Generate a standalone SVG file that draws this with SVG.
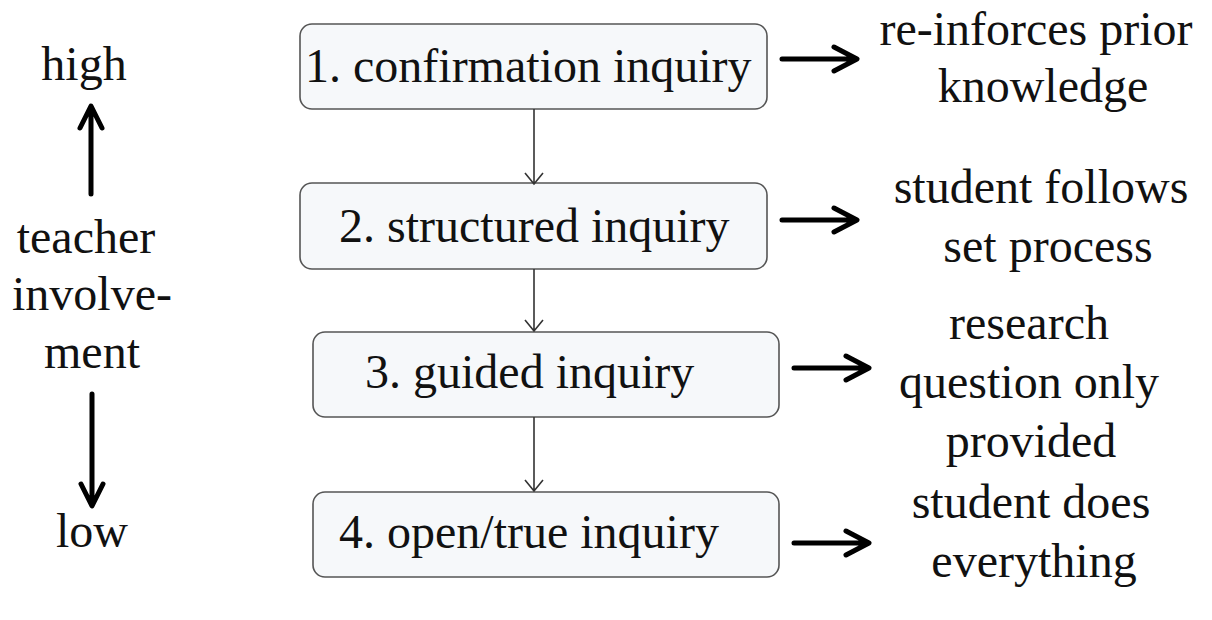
<svg xmlns="http://www.w3.org/2000/svg" width="1212" height="620" viewBox="0 0 1212 620" font-family="'Liberation Serif', Tinos, 'DejaVu Serif', serif">
<style>
text{font-family:'Liberation Serif', Tinos, 'DejaVu Serif', serif;font-size:48px;fill:#111}
.box{fill:#f6f8fa;stroke:#555;stroke-width:1.6}
.thin{stroke:#333;stroke-width:1.6;fill:none}
.thick{stroke:#000;stroke-width:5;fill:none;stroke-linecap:round;stroke-linejoin:round}
.m{text-anchor:middle}
</style>
<rect width="1212" height="620" fill="#fff"/>
<g id="axis">
<text class="m" x="84" y="80">high</text>
<text class="m" x="86" y="253">teacher</text>
<text class="m" x="92" y="310">involve-</text>
<text class="m" x="92" y="368">ment</text>
<text class="m" x="92" y="547">low</text>
</g>
<g id="n1"><rect class="box" x="300" y="24" width="467" height="85" rx="12"/><text x="305" y="82">1. confirmation inquiry</text></g>
<g id="n2"><rect class="box" x="300" y="183" width="467" height="86" rx="12"/><text x="339" y="242">2. structured inquiry</text></g>
<g id="n3"><rect class="box" x="313" y="332" width="466" height="85" rx="12"/><text x="365" y="388">3. guided inquiry</text></g>
<g id="n4"><rect class="box" x="313" y="492" width="466" height="85" rx="12"/><text x="339" y="548">4. open/true inquiry</text></g>
<g id="r1"><text class="m" x="1036" y="45">re-inforces prior</text><text class="m" x="1043" y="102">knowledge</text></g>
<g id="r2"><text class="m" x="1041" y="203">student follows</text><text class="m" x="1048" y="262">set process</text></g>
<g id="r3"><text class="m" x="1029" y="339">research</text><text class="m" x="1029" y="398">question only</text><text class="m" x="1031" y="457">provided</text></g>
<g id="r4"><text class="m" x="1031" y="518">student does</text><text class="m" x="1034" y="577">everything</text></g>
<g id="connectors">
<path class="thin" d="M534 109V184M525 173L534 184L543 173"/>
<path class="thin" d="M534 269V331M525 320L534 331L543 320"/>
<path class="thin" d="M534 417V491M525 480L534 491L543 480"/>
<path class="thick" d="M782 59H856M834 47L857 59L834 71"/>
<path class="thick" d="M782 220H856M834 208L857 220L834 232"/>
<path class="thick" d="M794 368H868M846 356L869 368L846 380"/>
<path class="thick" d="M794 543H868M846 531L869 543L846 555"/>
<path class="thick" d="M91 194V107M80 128L91 106L102 128"/>
<path class="thick" d="M92 394V505M81 484L92 506L103 484"/>
</g>
</svg>
